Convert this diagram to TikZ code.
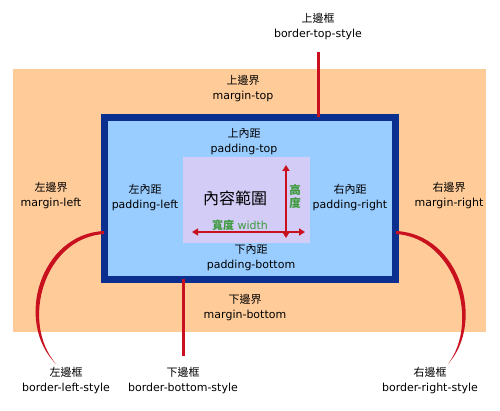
\documentclass[tikz,border=0pt]{standalone}
\usepackage{fontspec}
\setmainfont{DejaVu Sans}
\newfontfamily\cjk{Noto Sans CJK TC}
\usetikzlibrary{arrows.meta}
\definecolor{MarginPeach}{HTML}{FFCC99}
\definecolor{BorderBlue}{HTML}{0A2F8F}
\definecolor{PadBlue}{HTML}{99CCFF}
\definecolor{ContentLilac}{HTML}{D3CCF7}
\definecolor{StyleRed}{HTML}{C8101E}
\definecolor{SizeGreen}{HTML}{3C9A3C}
\tikzset{
  boxtext/.style={align=center, inner sep=0pt, font=\fontsize{11}{15}\selectfont},
  sizetext/.style={align=center, inner sep=0pt, text=SizeGreen, font=\fontsize{11}{13}\selectfont},
  marginbox/.style={fill=MarginPeach, inner sep=0pt, outer sep=0pt},
  borderbox/.style={draw=BorderBlue, line width=7pt, fill=PadBlue, inner sep=0pt, outer sep=0pt},
  contentbox/.style={fill=ContentLilac, inner sep=0pt, outer sep=0pt},
  redline/.style={draw=StyleRed, line width=3pt},
  redarc/.style={fill=StyleRed},
  sizearrow/.style={{Triangle[length=6pt,width=7pt]}-{Triangle[length=6pt,width=7pt]}, line width=1.5pt, draw=StyleRed}
}

\begin{document}
\begin{tikzpicture}[x=1pt, y=-1pt]
\useasboundingbox (0,0) rectangle (500,411);
% the three boxes
\node[marginbox, minimum width=473pt, minimum height=263pt] (margin) at (249.5,200.5) {};
\node[borderbox, minimum width=291pt, minimum height=162pt] (border) at (250,198.5) {};
\node[contentbox, minimum width=127pt, minimum height=86pt] (content) at (246.5,200) {};

% labels
\node[boxtext] (topstyle) at (318,26.5) {{\cjk 上邊框}\\border-top-style};
\node[boxtext] (mtop) at (243,89) {{\cjk 上邊界}\\margin-top};
\node[boxtext] (ptop) at (244,141.5) {{\cjk 上內距}\\padding-top};
\node[boxtext] (mleft) at (51,196) {{\cjk 左邊界}\\margin-left};
\node[boxtext] (pleft) at (145,197.5) {{\cjk 左內距}\\padding-left};
\node[boxtext] (pright) at (350,197.5) {{\cjk 右內距}\\padding-right};
\node[boxtext] (mright) at (449,196) {{\cjk 右邊界}\\margin-right};
\node[boxtext] (pbottom) at (251,258) {{\cjk 下內距}\\padding-bottom};
\node[boxtext] (mbottom) at (245,308) {{\cjk 下邊界}\\margin-bottom};
\node[boxtext] (leftstyle) at (66,381) {{\cjk 左邊框}\\border-left-style};
\node[boxtext] (bottomstyle) at (183,381) {{\cjk 下邊框}\\border-bottom-style};
\node[boxtext] (rightstyle) at (430,381) {{\cjk 右邊框}\\border-right-style};

% content area
\node[font=\cjk\fontsize{16}{16}\selectfont] (contentname) at (235,198) {內容範圍};
\node[sizetext, font=\cjk\bfseries\fontsize{11.5}{13}\selectfont] (heightname) at (295,196.5) {高\\度};
\node[sizetext] (widthname) at (240,225) {{\cjk\bfseries 寬度}\ width};
\coordinate (wleft) at (192,232);
\coordinate (wright) at (305,232);
\coordinate (htop) at (286,165);
\coordinate (hbottom) at (286,238);
\draw[sizearrow] (wleft) -- (wright);
\draw[sizearrow] (htop) -- (hbottom);

% border pointers
\draw[redline] ([yshift=-12pt]topstyle.south) -- (topstyle |- border.north);
\draw[redline] (bottomstyle |- border.south) -- ([yshift=12pt]bottomstyle.north);
\coordinate (lefttop) at (104,231);
\coordinate (leftfoot) at (56,364);
\coordinate (righttop) at (396,231);
\coordinate (rightfoot) at (448,364);
\fill[redarc] (lefttop) .. controls (40,234) and (14,322) .. (leftfoot)
  .. controls (20,322) and (44,238) .. ([yshift=-3pt]lefttop) -- cycle;
\fill[redarc] (righttop) .. controls (460,234) and (486,322) .. (rightfoot)
  .. controls (480,322) and (456,238) .. ([yshift=-3pt]righttop) -- cycle;
\end{tikzpicture}
\end{document}
